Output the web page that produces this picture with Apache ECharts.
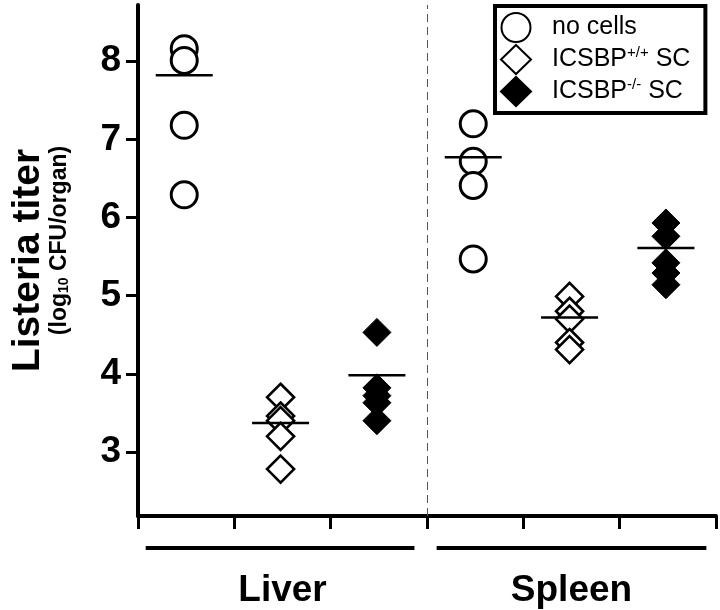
<!DOCTYPE html>
<html>
<head>
<meta charset="utf-8">
<script src="https://cdn.jsdelivr.net/npm/echarts@6/dist/echarts.min.js"></script>
<style>
  html, body { margin: 0; padding: 0; background: #fff; }
  #chart { width: 720px; height: 610px; }
</style>
</head>
<body>
<div id="chart"></div>
<script>
// organs and groups, left to right
const organs = ['Liver', 'Spleen']
const groupNames = ['no cells', 'ICSBP+/+ SC', 'ICSBP-/- SC']

// log10 CFU per organ
const liverNoCells = [8.16, 8.01, 7.18, 6.29]
const liverWT = [3.70, 3.46, 3.40, 3.20, 2.78]
const liverKO = [4.53, 3.82, 3.72, 3.63, 3.40]
const spleenNoCells = [7.20, 6.72, 6.41, 5.47]
const spleenWT = [4.99, 4.80, 4.70, 4.40, 4.31]
const spleenKO = [5.93, 5.76, 5.42, 5.29, 5.14]

// horizontal bars (group means) per organ, same group order
const liverMeans = [7.82, 3.37, 3.98]
const spleenMeans = [6.77, 4.72, 5.61]

const yTicks = [3, 4, 5, 6, 7, 8]

const FONT = '"Liberation Sans", Arial, Helvetica, sans-serif'

// slot index: organ * 3 + group, points sit in the middle of the slot
const slot = (o, g) => o * 3 + g + 0.48
const toPoints = (vals, o, g) => vals.map(v => [slot(o, g), v])

const byGroup = [
  [liverNoCells, spleenNoCells],
  [liverWT, spleenWT],
  [liverKO, spleenKO],
]
const means = [liverMeans, spleenMeans]

const symbols = [
  { symbol: 'circle', symbolSize: 26, itemStyle: { color: '#fff', borderColor: '#000', borderWidth: 3, opacity: 1 } },
  { symbol: 'diamond', symbolSize: 27, itemStyle: { color: '#fff', borderColor: '#000', borderWidth: 2.6, opacity: 1 } },
  { symbol: 'diamond', symbolSize: 28, itemStyle: { color: '#000', borderColor: '#000', borderWidth: 1, opacity: 1 } },
]

const chart = echarts.init(document.getElementById('chart'))

const pointSeries = groupNames.map((name, g) => ({
  name,
  type: 'scatter',
  symbol: symbols[g].symbol,
  symbolSize: symbols[g].symbolSize,
  itemStyle: symbols[g].itemStyle,
  data: [...toPoints(byGroup[g][0], 0, g), ...toPoints(byGroup[g][1], 1, g)],
  z: 3,
  silent: true,
}))

const meanData = []
means.forEach((arr, o) => arr.forEach((v, g) => meanData.push([slot(o, g), v])))

const legendText = {
  'no cells': '{t|no cells}',
  'ICSBP+/+ SC': '{t|ICSBP}{sup|+/+}{t| SC}',
  'ICSBP-/- SC': '{t|ICSBP}{sup|-/-}{t| SC}',
}

chart.setOption({
  animation: false,
  backgroundColor: '#fff',
  textStyle: { fontFamily: FONT, color: '#000' },
  grid: { left: 138, right: 4, top: 5, bottom: 94 },
  legend: {
    data: groupNames,
    orient: 'vertical',
    left: 495,
    top: 6,
    padding: [6, 15, 6, 5],
    itemWidth: 30,
    itemHeight: 29,
    itemGap: 1,
    borderColor: '#000',
    borderWidth: 4,
    selectedMode: false,
    formatter: name => legendText[name],
    textStyle: {
      padding: [0, 0, 0, 16],
      rich: {
        t: { fontSize: 25, fontFamily: FONT, color: '#000', lineHeight: 28 },
        sup: { fontSize: 15, fontFamily: FONT, color: '#000', verticalAlign: 'top' },
      },
    },
  },
  xAxis: [
    {
      type: 'value',
      min: 0,
      max: 6,
      interval: 1,
      splitLine: { show: false },
      axisLine: { lineStyle: { color: '#000', width: 4 } },
      axisTick: { inside: false, length: 13, lineStyle: { color: '#000', width: 3 } },
      axisLabel: { show: false },
    },
    {
      type: 'category',
      data: organs,
      position: 'bottom',
      boundaryGap: true,
      axisLine: { show: false },
      axisTick: { show: false },
      axisLabel: { margin: 56, fontSize: 37, fontWeight: 'bold', fontFamily: FONT, color: '#000' },
    },
  ],
  yAxis: {
    type: 'value',
    min: 2.18,
    max: 8.72,
    splitLine: { show: false },
    axisLine: { lineStyle: { color: '#000', width: 4 } },
    axisTick: { length: 12, customValues: yTicks, lineStyle: { color: '#000', width: 3 } },
    axisLabel: {
      customValues: yTicks,
      margin: 17,
      fontSize: 37,
      fontWeight: 'bold',
      fontFamily: FONT,
      color: '#000',
    },
    name: '{a|Listeria titer}\n{b0|(log}{s|10}{b| CFU/organ)}',
    nameLocation: 'middle',
    nameRotate: 90,
    nameGap: 67,
    nameTextStyle: {
      align: 'center',
      rich: {
        a: { fontSize: 39, fontWeight: 'bold', fontFamily: FONT, color: '#000', lineHeight: 40 },
        b0: { fontSize: 23, fontWeight: 'bold', fontFamily: FONT, color: '#000', padding: [0, 0, 0, 40] },
        b: { fontSize: 23, fontWeight: 'bold', fontFamily: FONT, color: '#000' },
        s: { fontSize: 14, fontWeight: 'bold', fontFamily: FONT, color: '#000', verticalAlign: 'bottom' },
      },
    },
  },
  series: [
    ...pointSeries,
    {
      name: 'mean',
      type: 'scatter',
      symbol: 'rect',
      symbolSize: [57, 2.5],
      itemStyle: { color: '#000', opacity: 1 },
      data: meanData,
      z: 5,
      silent: true,
      markLine: {
        silent: true,
        symbol: 'none',
        label: { show: false },
        lineStyle: { color: '#555', width: 1, type: [8, 5] },
        data: [{ xAxis: 3 }],
      },
    },
  ],
})

// bars under the organ names, drawn from the x axis scale
const ux = v => chart.convertToPixel({ xAxisIndex: 0 }, v)
const underY = 548
chart.setOption({
  graphic: [
    [0.08, 2.87],
    [3.1, 5.9],
  ].map(([a, b]) => ({
    type: 'line',
    shape: { x1: ux(a), y1: underY, x2: ux(b), y2: underY },
    style: { stroke: '#000', lineWidth: 4 },
  })),
})
</script>
</body>
</html>
